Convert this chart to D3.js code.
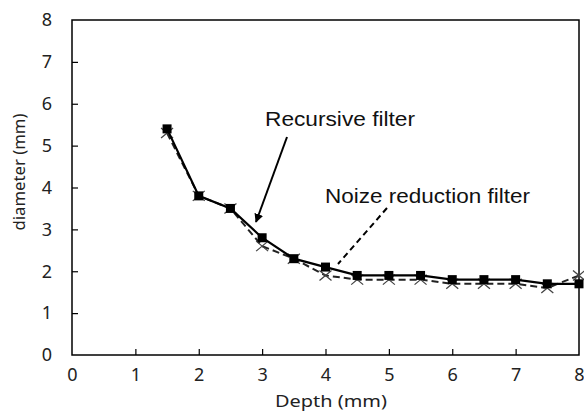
<!DOCTYPE html>
<html>
<head>
<meta charset="utf-8">
<script src="https://cdn.jsdelivr.net/npm/d3@7"></script>
<style>
  html, body { margin: 0; padding: 0; background: #fff; }
  svg { display: block; }
</style>
</head>
<body>
<svg id="chart" width="584" height="420"></svg>
<script>
// Depth positions (mm) and the filtered vessel diameter at each depth
const depth = [1.5, 2, 2.5, 3, 3.5, 4, 4.5, 5, 5.5, 6, 6.5, 7, 7.5, 8];
const recursiveFilter = [5.4, 3.8, 3.5, 2.8, 2.3, 2.1, 1.9, 1.9, 1.9, 1.8, 1.8, 1.8, 1.7, 1.7];
const noiseReduction = [5.3, 3.8, 3.5, 2.6, 2.3, 1.9, 1.8, 1.8, 1.8, 1.7, 1.7, 1.7, 1.6, 1.9];
const xTicks = [0, 1, 2, 3, 4, 5, 6, 7, 8];
const yTicks = [0, 1, 2, 3, 4, 5, 6, 7, 8];

const svg = d3.select("#chart");
const m = { left: 72, right: 5, top: 20, bottom: 65 };
const W = 584, H = 420;

const x = d3.scaleLinear().domain([0, 8]).range([m.left, W - m.right]);
const y = d3.scaleLinear().domain([0, 8]).range([H - m.bottom, m.top]);

const tickFont = "'Noto Sans', 'DejaVu Sans', sans-serif";
const labelFont = "'Liberation Sans', Arial, sans-serif";

// Plot frame
svg.append("rect")
  .attr("x", x(0)).attr("y", y(8))
  .attr("width", x(8) - x(0)).attr("height", y(0) - y(8))
  .attr("fill", "none").attr("stroke", "#000").attr("stroke-width", 1.5);

// Y axis: inward ticks
const yAxis = svg.append("g")
  .attr("transform", `translate(${x(0)},0)`)
  .call(d3.axisLeft(y).tickValues(yTicks).tickSize(-6).tickPadding(20).tickFormat(d3.format("d")));
yAxis.select(".domain").remove();
yAxis.selectAll(".tick line").attr("stroke", "#000").attr("stroke-width", 1.2)
  .filter(d => d === 0 || d === 8).remove();
yAxis.selectAll("text").attr("font-family", tickFont).attr("font-size", 18).attr("fill", "#222");

// X axis: inward ticks
const xAxis = svg.append("g")
  .attr("transform", `translate(0,${y(0)})`)
  .call(d3.axisBottom(x).tickValues(xTicks).tickSize(-6).tickPadding(13).tickFormat(d3.format("d")));
xAxis.select(".domain").remove();
xAxis.selectAll(".tick line").attr("stroke", "#000").attr("stroke-width", 1.2)
  .filter(d => d === 0 || d === 8).remove();
xAxis.selectAll("text").attr("font-family", tickFont).attr("font-size", 18).attr("fill", "#222");

// Axis titles
svg.append("text")
  .attr("x", 331).attr("y", 407)
  .attr("text-anchor", "middle")
  .attr("font-family", tickFont).attr("font-size", 17).attr("fill", "#222")
  .attr("textLength", 112).attr("lengthAdjust", "spacingAndGlyphs")
  .text("Depth (mm)");
svg.append("text")
  .attr("transform", `translate(25,172) rotate(-90)`)
  .attr("text-anchor", "middle")
  .attr("font-family", tickFont).attr("font-size", 17).attr("fill", "#222")
  .attr("textLength", 117).attr("lengthAdjust", "spacingAndGlyphs")
  .text("diameter (mm)");

const line = d3.line().x((d, i) => x(depth[i])).y(d => y(d));

// Noise reduction filter: dashed line with cross markers
svg.append("path").datum(noiseReduction)
  .attr("d", line).attr("fill", "none")
  .attr("stroke", "#222").attr("stroke-width", 2).attr("stroke-dasharray", "7,4");
svg.append("g").selectAll("path").data(noiseReduction).join("path")
  .attr("transform", (d, i) => `translate(${x(depth[i])},${y(d)})`)
  .attr("d", "M-6,-5L6,5M-6,5L6,-5")
  .attr("stroke", "#444").attr("stroke-width", 1.3).attr("fill", "none");

// Recursive filter: solid line with square markers
svg.append("path").datum(recursiveFilter)
  .attr("d", line).attr("fill", "none")
  .attr("stroke", "#000").attr("stroke-width", 2.2);
svg.append("g").selectAll("rect").data(recursiveFilter).join("rect")
  .attr("x", (d, i) => x(depth[i]) - 4.5).attr("y", d => y(d) - 4.5)
  .attr("width", 9).attr("height", 9).attr("fill", "#000");

// Annotations
svg.append("defs").append("marker")
  .attr("id", "arrowhead").attr("viewBox", "0 0 10 10")
  .attr("refX", 9).attr("refY", 5)
  .attr("markerWidth", 9).attr("markerHeight", 9)
  .attr("markerUnits", "userSpaceOnUse")
  .attr("orient", "auto")
  .append("path").attr("d", "M0,0L10,5L0,10Z").attr("fill", "#000");

svg.append("text")
  .attr("x", 265).attr("y", 126)
  .attr("font-family", labelFont).attr("font-size", 20).attr("fill", "#111")
  .attr("textLength", 150).attr("lengthAdjust", "spacingAndGlyphs")
  .text("Recursive filter");
svg.append("line")
  .attr("x1", 287).attr("y1", 137).attr("x2", 256).attr("y2", 222)
  .attr("stroke", "#000").attr("stroke-width", 2).attr("marker-end", "url(#arrowhead)");

svg.append("text")
  .attr("x", 325).attr("y", 203)
  .attr("font-family", labelFont).attr("font-size", 20).attr("fill", "#111")
  .attr("textLength", 205).attr("lengthAdjust", "spacingAndGlyphs")
  .text("Noize reduction filter");
svg.append("line")
  .attr("x1", 387).attr("y1", 208).attr("x2", 338).attr("y2", 264)
  .attr("stroke", "#000").attr("stroke-width", 2).attr("stroke-dasharray", "6,4");
</script>
</body>
</html>
